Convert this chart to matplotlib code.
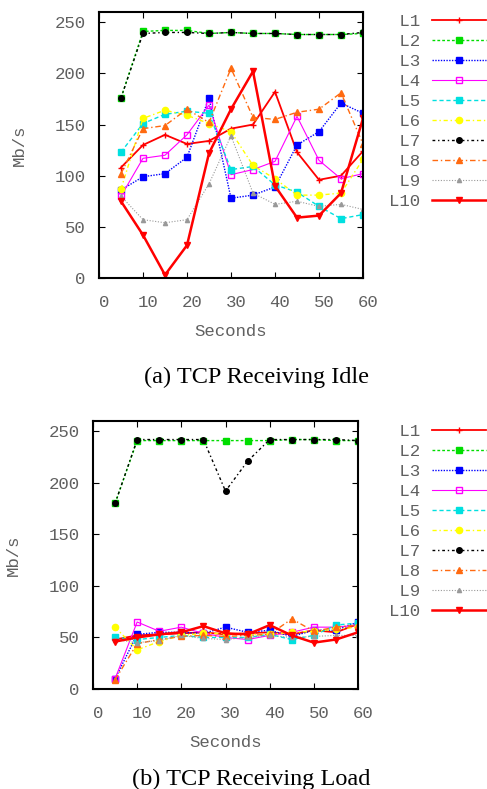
import matplotlib
matplotlib.use("Agg")
import matplotlib.pyplot as plt
import matplotlib.transforms as mtransforms

# sample times (seconds)
seconds = [5, 10, 15, 20, 25, 30, 35, 40, 45, 50, 55, 60]
labels = ["L1", "L2", "L3", "L4", "L5", "L6", "L7", "L8", "L9", "L10"]

# (a) TCP receiving, idle
idle_l1 = [108, 130, 140, 131, 134, 146, 150, 182, 123, 96, 100, 124]
idle_l2 = [176, 241, 242, 242, 239, 240, 239, 239, 238, 238, 238, 239]
idle_l3 = [86, 99, 102, 118, 176, 78, 81, 89, 130, 143, 171, 161]
idle_l4 = [80, 117, 120, 140, 169, 101, 106, 114, 158, 115, 97, 102]
idle_l5 = [123, 151, 160, 163, 161, 106, 109, 91, 84, 70, 58, 62]
idle_l6 = [87, 156, 164, 159, 151, 143, 110, 97, 81, 81, 83, 116]
idle_l7 = [176, 239, 240, 240, 239, 240, 239, 239, 238, 238, 238, 240]
idle_l8 = [102, 146, 149, 165, 152, 205, 157, 155, 162, 165, 181, 131]
idle_l9 = [80, 57, 54, 57, 92, 139, 83, 72, 75, 70, 72, 67]
idle_l10 = [75, 42, 3, 32, 122, 165, 202, 90, 59, 61, 83, 156]

# (b) TCP receiving, load
load_l1 = [48, 52, 53, 54, 55, 53, 54, 55, 53, 57, 55, 63]
load_l2 = [180, 241, 241, 241, 241, 241, 241, 241, 242, 242, 241, 241]
load_l3 = [10, 53, 55, 55, 54, 60, 55, 57, 51, 57, 57, 65]
load_l4 = [10, 65, 56, 60, 54, 50, 48, 52, 55, 60, 60, 62]
load_l5 = [50, 48, 50, 52, 50, 50, 50, 53, 48, 52, 62, 64]
load_l6 = [60, 38, 46, 52, 54, 54, 53, 53, 55, 56, 58, 60]
load_l7 = [180, 242, 242, 242, 242, 192, 221, 242, 242, 242, 242, 241]
load_l8 = [9, 44, 48, 51, 52, 51, 52, 53, 68, 56, 60, 62]
load_l9 = [48, 45, 47, 52, 49, 48, 50, 52, 50, 51, 52, 52]
load_l10 = [46, 50, 53, 55, 61, 54, 53, 62, 52, 45, 48, 55]

idle = [idle_l1, idle_l2, idle_l3, idle_l4, idle_l5, idle_l6, idle_l7, idle_l8, idle_l9, idle_l10]
load = [load_l1, load_l2, load_l3, load_l4, load_l5, load_l6, load_l7, load_l8, load_l9, load_l10]

# gnuplot-ish line styles: color, dashes, marker, marker filled, linewidth, marker size
styles = [
    ("#ff0000", "-", "+", True, 1.3, 5),
    ("#00dd00", (0, (2, 1.5)), "s", True, 1.0, 4),
    ("#0000ff", (0, (1, 1)), "s", True, 1.0, 4),
    ("#ff00ff", "-", "s", False, 0.8, 4.5),
    ("#00e0e0", (0, (3, 2)), "s", True, 1.0, 4),
    ("#ffff00", (0, (3, 2, 1, 2)), "o", True, 1.0, 4.5),
    ("#000000", (0, (2, 2, 1, 2)), "o", True, 1.0, 4),
    ("#ff6a10", (0, (4, 2, 1, 2)), "^", True, 1.0, 4.5),
    ("#999999", (0, (1, 1.5)), "^", True, 0.8, 3),
    ("#ff0000", "-", "v", True, 1.8, 5),
]

mono = "Liberation Mono"
grey = "#606060"
fs = 12.5

fig = plt.figure(figsize=(4.87, 7.89), dpi=100)
axes_pos = [
    [99 / 487, 1 - 278 / 789, 264 / 487, 266 / 789],
    [93 / 487, 1 - 689 / 789, 265 / 487, 268 / 789],
]
legend_top = [14 / 789, 424 / 789]
captions = ["(a) TCP Receiving Idle", "(b) TCP Receiving Load"]
caption_x = [256 / 487, 251 / 487]
caption_y = [1 - 377 / 789, 1 - 779 / 789]

# gnuplot's courier labels sit a bit right of the tick
shift = mtransforms.ScaledTranslation(5 / 100, 0, fig.dpi_scale_trans)

for k, data in enumerate([idle, load]):
    ax = fig.add_axes(axes_pos[k])
    for i, vals in enumerate(data):
        c, ls, m, filled, lw, ms = styles[i]
        ax.plot(seconds, vals, color=c, linestyle=ls, linewidth=lw,
                marker=m, markersize=ms,
                markerfacecolor=c if filled else "none",
                markeredgecolor=c, markeredgewidth=1.0,
                label=labels[i].rjust(3))
    ax.set_xlim(0, 60)
    ax.set_ylim(0, 260)
    ax.set_xticks([0, 10, 20, 30, 40, 50, 60])
    ax.set_yticks([0, 50, 100, 150, 200, 250])
    ax.tick_params(direction="in", top=True, right=True, length=4,
                   labelsize=fs, labelcolor=grey)
    ax.tick_params(axis="x", pad=12)
    ax.tick_params(axis="y", pad=9.5)
    for t in ax.get_xticklabels():
        t.set_transform(t.get_transform() + shift)
    for t in ax.get_xticklabels() + ax.get_yticklabels():
        t.set_fontfamily(mono)
    for sp in ax.spines.values():
        sp.set_linewidth(1.5)
    ax.set_xlabel("Seconds", fontfamily=mono, fontsize=fs, color=grey, labelpad=10)
    ax.set_ylabel("Mb/s", fontfamily=mono, fontsize=fs, color=grey, labelpad=20)
    leg = ax.legend(loc="upper left", bbox_to_anchor=(389 / 487, 1 - legend_top[k]),
                    bbox_transform=fig.transFigure, frameon=False, markerfirst=False,
                    prop={"family": mono, "size": fs}, handlelength=3.1,
                    handletextpad=0.7, borderpad=0, borderaxespad=0,
                    labelspacing=0.28)
    for t in leg.get_texts():
        t.set_color(grey)
    fig.text(caption_x[k], caption_y[k], captions[k], ha="center", va="center",
             fontfamily="Liberation Serif", fontsize=17.5)

fig.savefig("out.png", dpi=100)
